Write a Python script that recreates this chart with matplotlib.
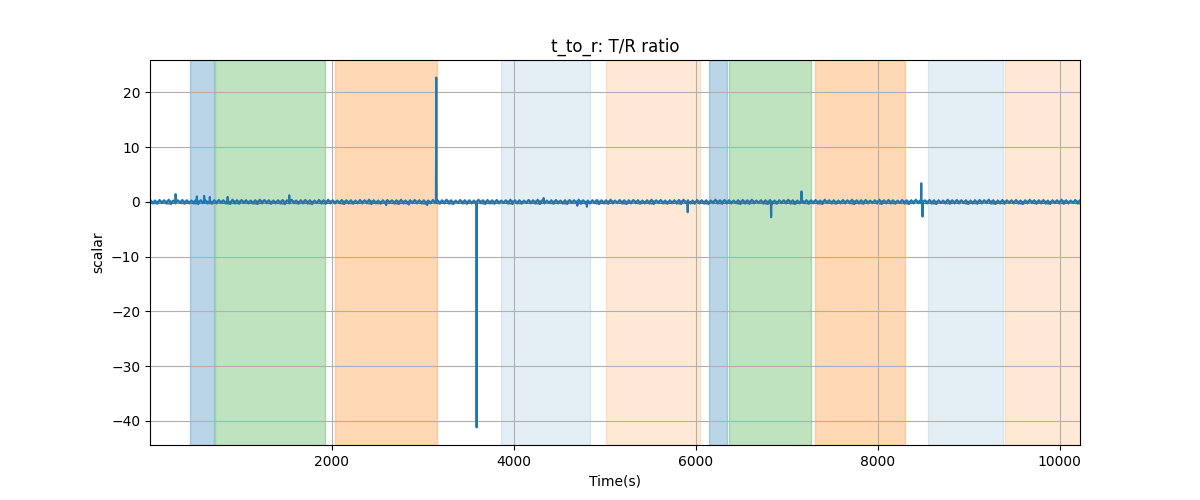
import numpy as np
import matplotlib
matplotlib.use('Agg')
import matplotlib.pyplot as plt

# shaded phases (start, end, colour, alpha)
span_start = [447, 722, 2041, 3865, 5019, 6150, 6363, 7315, 8557, 9403]
span_end = [708, 1927, 3158, 4840, 6048, 6348, 7268, 8294, 9381, 10300]
span_color = ['tab:blue', 'tab:green', 'tab:orange', 'tab:blue', 'tab:orange',
              'tab:blue', 'tab:green', 'tab:orange', 'tab:blue', 'tab:orange']
span_alpha = [0.3, 0.3, 0.3, 0.12, 0.17, 0.3, 0.3, 0.3, 0.12, 0.17]

# the noisy baseline reads as a thick band: upper and lower excursions
band_top = [
    0.3, 0.25, 0.35, 0.3, 0.4, 0.25, 0.3, 0.35, 0.3, 0.25, 0.4, 0.3, 0.35, 0.25, 0.3,
    0.35, 0.3, 0.25, 0.4, 0.3, 0.35, 0.3, 0.25, 0.3, 0.4, 0.35, 0.3, 0.25, 0.3, 0.35,
    0.3, 0.4, 0.25, 0.3, 0.35, 0.3, 0.25, 0.35, 0.3, 0.4, 0.3, 0.25, 0.35, 0.3, 0.3,
    0.25, 0.35, 0.3, 0.4, 0.3, 0.25, 0.3, 0.35, 0.3, 0.3, 0.4, 0.25, 0.3, 0.35, 0.3,
    0.3, 0.25, 0.35, 0.3, 0.3, 0.4, 0.3, 0.25, 0.35, 0.3, 0.3, 0.25, 0.4, 0.3, 0.35,
    0.3, 0.35, 0.25, 0.3, 0.4, 0.3, 0.3, 0.25, 0.35, 0.3, 0.4, 0.3, 0.25, 0.3, 0.35,
    0.25, 0.3, 0.35, 0.3, 0.4, 0.3, 0.25, 0.3, 0.35, 0.3, 0.3, 0.4, 0.25, 0.35, 0.3,
    0.3, 0.35, 0.3, 0.25, 0.3, 0.4, 0.3, 0.35, 0.25, 0.3, 0.3, 0.35, 0.4, 0.3, 0.25,
    0.35, 0.3, 0.3, 0.25, 0.4, 0.3, 0.35, 0.3, 0.25, 0.3, 0.35, 0.3, 0.4, 0.25, 0.3,
    0.3, 0.35, 0.25, 0.3, 0.3, 0.4, 0.3, 0.25, 0.35, 0.3, 0.3, 0.35, 0.25, 0.4, 0.3,
    0.3, 0.25, 0.35, 0.3, 0.4, 0.3, 0.3, 0.35, 0.25, 0.3, 0.4, 0.3, 0.35, 0.3, 0.25,
    0.35, 0.3, 0.3, 0.4, 0.25, 0.3, 0.35, 0.3, 0.3, 0.25, 0.4, 0.3, 0.35, 0.3, 0.3,
    0.25, 0.3, 0.35, 0.3, 0.4, 0.3, 0.25, 0.35, 0.3, 0.3, 0.35, 0.25, 0.3, 0.4, 0.3,
    0.3, 0.35, 0.25, 0.3, 0.3, 0.4, 0.3, 0.25, 0.35, 0.3,
]
band_bottom = [
    -0.3, -0.35, -0.25, -0.3, -0.4, -0.3, -0.25, -0.35, -0.3, -0.3, -0.4, -0.25, -0.3, -0.35, -0.3,
    -0.25, -0.3, -0.4, -0.3, -0.35, -0.25, -0.3, -0.3, -0.4, -0.3, -0.25, -0.35, -0.3, -0.3, -0.4,
    -0.3, -0.25, -0.35, -0.3, -0.3, -0.4, -0.25, -0.3, -0.35, -0.3, -0.3, -0.25, -0.4, -0.3, -0.35,
    -0.3, -0.3, -0.25, -0.4, -0.3, -0.35, -0.3, -0.25, -0.3, -0.4, -0.3, -0.35, -0.25, -0.3, -0.3,
    -0.4, -0.3, -0.25, -0.35, -0.3, -0.3, -0.4, -0.25, -0.3, -0.35, -0.3, -0.3, -0.25, -0.4, -0.3,
    -0.35, -0.3, -0.25, -0.3, -0.4, -0.3, -0.35, -0.25, -0.3, -0.3, -0.4, -0.3, -0.25, -0.35, -0.3,
    -0.3, -0.4, -0.25, -0.3, -0.35, -0.3, -0.3, -0.25, -0.4, -0.3, -0.35, -0.3, -0.25, -0.3, -0.4,
    -0.3, -0.25, -0.35, -0.3, -0.3, -0.4, -0.25, -0.3, -0.35, -0.3, -0.3, -0.4, -0.25, -0.3, -0.35,
    -0.3, -0.3, -0.4, -0.25, -0.3, -0.35, -0.3, -0.3, -0.25, -0.4, -0.3, -0.35, -0.3, -0.25, -0.3,
    -0.4, -0.3, -0.35, -0.25, -0.3, -0.3, -0.4, -0.3, -0.25, -0.35, -0.3, -0.3, -0.4, -0.25, -0.3,
    -0.35, -0.3, -0.3, -0.25, -0.4, -0.3, -0.35, -0.3, -0.25, -0.3, -0.4, -0.3, -0.3, -0.35, -0.25,
    -0.3, -0.4, -0.3, -0.25, -0.35, -0.3, -0.3, -0.4, -0.25, -0.3, -0.35, -0.3, -0.3, -0.25, -0.4,
    -0.3, -0.35, -0.3, -0.25, -0.3, -0.4, -0.3, -0.35, -0.25, -0.3, -0.3, -0.4, -0.3, -0.25, -0.35,
    -0.3, -0.3, -0.4, -0.25, -0.3, -0.35, -0.3, -0.25, -0.3, -0.4,
]
band_top_t = np.linspace(10, 10220, len(band_top))
band_bottom_t = np.linspace(35, 10245, len(band_bottom))

# spikes
spike_t = [286, 520, 600, 662, 858, 1535, 2600, 2850, 3050, 3150, 3593, 4330,
           4700, 4805, 5912, 6829, 7162, 8478, 8492]
spike_v = [1.4, 1.0, 1.1, 0.9, 0.9, 1.2, -0.6, -0.5, -0.6, 22.7, -41.2, 0.7,
           -0.7, -0.9, -1.9, -2.8, 1.9, 3.4, -2.7]

# keep the spikes vertical: baseline points just either side of each one
flank_t = [s + d for s in spike_t for d in (-4, 4)]
flank_v = [0.0] * len(flank_t)

t = np.concatenate([band_top_t, band_bottom_t, spike_t, flank_t])
v = np.concatenate([band_top, band_bottom, spike_v, flank_v])
order = np.argsort(t)
t = t[order]
v = v[order]

fig, ax = plt.subplots(figsize=(12, 5))
for s, e, c, a in zip(span_start, span_end, span_color, span_alpha):
    ax.axvspan(s, e, color=c, alpha=a)
# dense noise: fill its envelope, then draw the trace itself over it
ax.fill_between(band_top_t, band_bottom, band_top, color='tab:blue', lw=0)
ax.plot(t, v, color='tab:blue')
ax.set_xlim(5, 10222)
ax.set_ylim(-44.4, 25.9)
ax.set_title('t_to_r: T/R ratio')
ax.set_xlabel('Time(s)')
ax.set_ylabel('scalar')
ax.grid(True)

plt.savefig('out.png')
